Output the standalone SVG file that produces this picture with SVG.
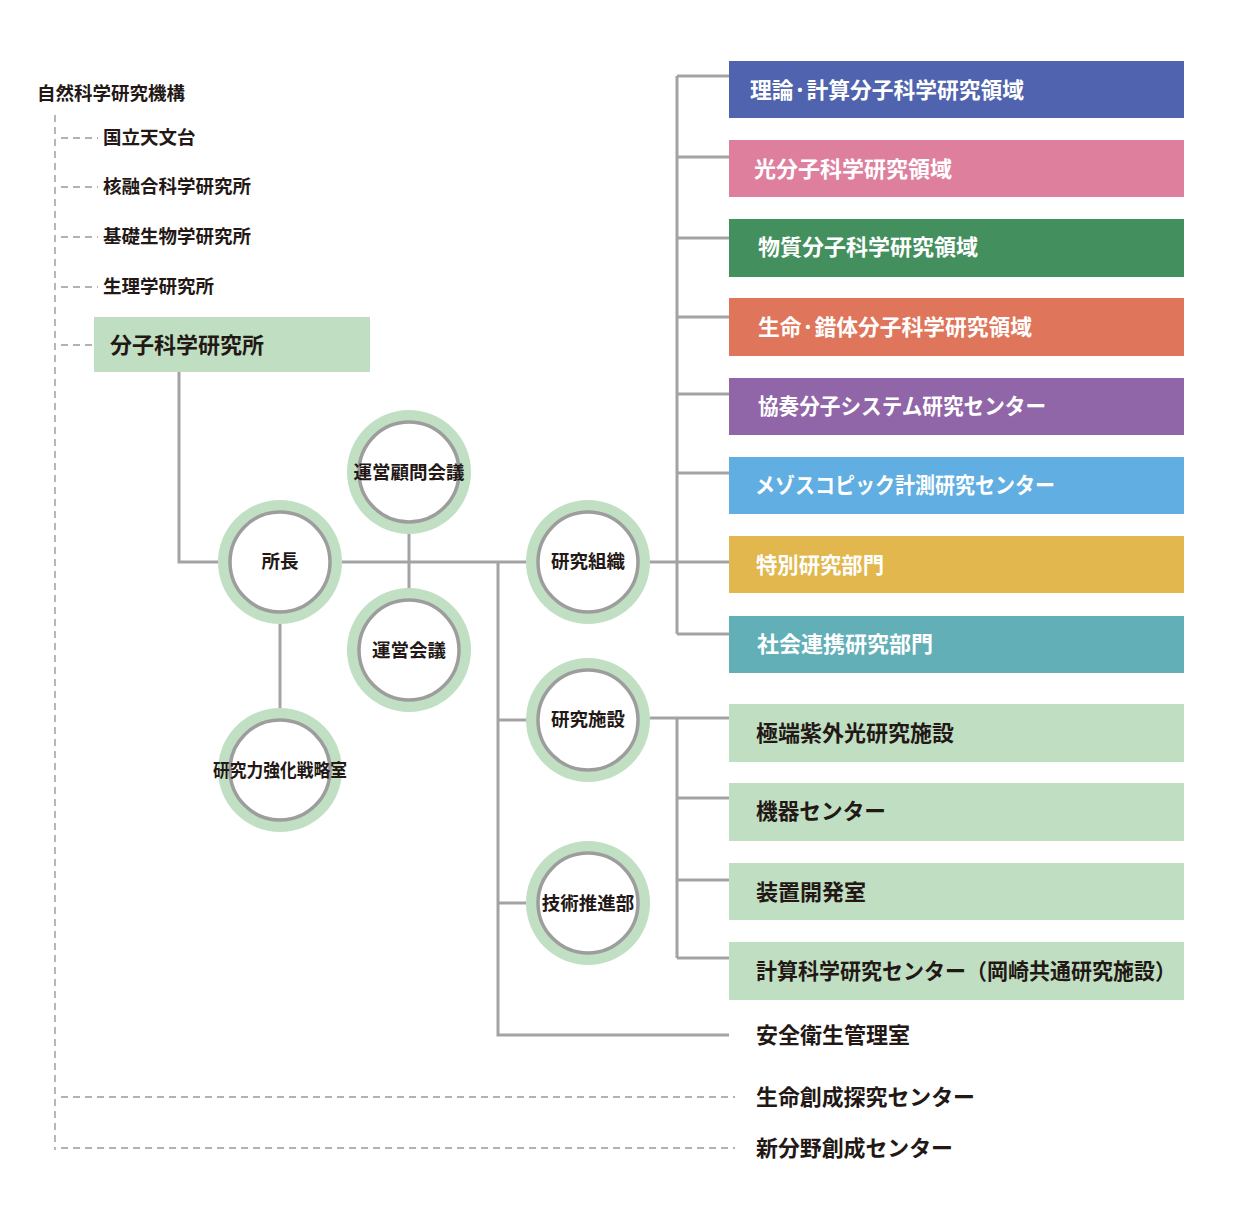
<svg xmlns="http://www.w3.org/2000/svg" width="1240" height="1228" viewBox="0 0 1240 1228">
<style>
.t{font-family:"Noto Sans CJK JP","Noto Sans",sans-serif;font-weight:700;dominant-baseline:central}
.dk{fill:#231815}
.wt{fill:#ffffff}
.s17{font-size:18.5px}
.s22{font-size:22px}
.c{text-anchor:middle}
.ln{stroke:#a3a3a3;stroke-width:3;fill:none}
.dl{stroke:#999;stroke-width:1.4;fill:none;stroke-dasharray:7 5}
.ring{fill:#c0dfc3}
.inner{fill:#fff;stroke:#9d9d9d;stroke-width:3.5}
.g{fill:#c0dfc2}
</style>
<defs>
<g id="circ"><circle r="62" class="ring"/><circle r="50" class="inner"/></g>
</defs>
<rect width="1240" height="1228" fill="#fff"/>

<g id="connectors">
<line class="dl" x1="55" y1="115" x2="55" y2="1150"/>
<line class="dl" x1="61" y1="138" x2="98" y2="138"/>
<line class="dl" x1="61" y1="187" x2="98" y2="187"/>
<line class="dl" x1="61" y1="237" x2="98" y2="237"/>
<line class="dl" x1="61" y1="287" x2="98" y2="287"/>
<line class="dl" x1="61" y1="345" x2="96" y2="345"/>
<line class="dl" x1="61" y1="1097" x2="735" y2="1097"/>
<line class="dl" x1="61" y1="1148" x2="735" y2="1148"/>
<polyline class="ln" points="179,372 179,562 218,562"/>
<line class="ln" x1="342" y1="562" x2="526" y2="562"/>
<line class="ln" x1="409" y1="534" x2="409" y2="588"/>
<line class="ln" x1="280" y1="624" x2="280" y2="708"/>
<polyline class="ln" points="498,562 498,1035 729,1035"/>
<line class="ln" x1="498" y1="720" x2="526" y2="720"/>
<line class="ln" x1="498" y1="903" x2="526" y2="903"/>
<line class="ln" x1="650" y1="562" x2="729" y2="562"/>
<line class="ln" x1="677" y1="76" x2="677" y2="634"/>
<line class="ln" x1="677" y1="76" x2="729" y2="76"/>
<line class="ln" x1="677" y1="157" x2="729" y2="157"/>
<line class="ln" x1="677" y1="238" x2="729" y2="238"/>
<line class="ln" x1="677" y1="317" x2="729" y2="317"/>
<line class="ln" x1="677" y1="394" x2="729" y2="394"/>
<line class="ln" x1="677" y1="473" x2="729" y2="473"/>
<line class="ln" x1="677" y1="634" x2="729" y2="634"/>
<line class="ln" x1="650" y1="718" x2="729" y2="718"/>
<line class="ln" x1="677" y1="718" x2="677" y2="958"/>
<line class="ln" x1="677" y1="798" x2="729" y2="798"/>
<line class="ln" x1="677" y1="880" x2="729" y2="880"/>
<line class="ln" x1="677" y1="958" x2="729" y2="958"/>
</g>

<g id="n-root"><text class="t dk s17" x="37" y="92">自然科学研究機構</text></g>
<g id="n-naoj"><text class="t dk s17" x="103" y="136">国立天文台</text></g>
<g id="n-nifs"><text class="t dk s17" x="103" y="185">核融合科学研究所</text></g>
<g id="n-nibb"><text class="t dk s17" x="103" y="235">基礎生物学研究所</text></g>
<g id="n-nips"><text class="t dk s17" x="103" y="285">生理学研究所</text></g>
<g id="n-ims"><rect class="g" x="94" y="317" width="276" height="55"/><text class="t dk" style="font-size:22px" x="110" y="343">分子科学研究所</text></g>

<g id="n-director"><use href="#circ" x="280" y="562"/><text class="t dk s17 c" x="280" y="560">所長</text></g>
<g id="n-advisory"><use href="#circ" x="409" y="472"/><text class="t dk s17 c" x="409" y="471">運営顧問会議</text></g>
<g id="n-council"><use href="#circ" x="409" y="650"/><text class="t dk s17 c" x="409" y="649">運営会議</text></g>
<g id="n-strategy"><use href="#circ" x="280" y="770"/><text class="t dk s17 c" x="280" y="769" textLength="134" lengthAdjust="spacingAndGlyphs">研究力強化戦略室</text></g>
<g id="n-research-org"><use href="#circ" x="588" y="562"/><text class="t dk s17 c" x="588" y="560">研究組織</text></g>
<g id="n-research-fac"><use href="#circ" x="588" y="720"/><text class="t dk s17 c" x="588" y="718">研究施設</text></g>
<g id="n-tech"><use href="#circ" x="588" y="903"/><text class="t dk s17 c" x="588" y="902">技術推進部</text></g>

<g id="n-theory"><rect x="729" y="61" width="455" height="57" fill="#5063ae"/><text class="t wt s22" x="750" y="88" textLength="274" lengthAdjust="spacingAndGlyphs">理論·計算分子科学研究領域</text></g>
<g id="n-photo"><rect x="729" y="140" width="455" height="57" fill="#de7f9e"/><text class="t wt s22" x="754" y="167">光分子科学研究領域</text></g>
<g id="n-material"><rect x="729" y="219" width="455" height="58" fill="#438f5e"/><text class="t wt s22" x="758" y="245">物質分子科学研究領域</text></g>
<g id="n-life"><rect x="729" y="298" width="455" height="58" fill="#df755a"/><text class="t wt s22" x="758" y="325" textLength="274" lengthAdjust="spacingAndGlyphs">生命·錯体分子科学研究領域</text></g>
<g id="n-ensemble"><rect x="729" y="378" width="455" height="57" fill="#9066a8"/><text class="t wt s22" x="758" y="404" textLength="288" lengthAdjust="spacingAndGlyphs">協奏分子システム研究センター</text></g>
<g id="n-meso"><rect x="729" y="457" width="455" height="57" fill="#61aee2"/><text class="t wt s22" x="755" y="483" textLength="300" lengthAdjust="spacingAndGlyphs">メゾスコピック計測研究センター</text></g>
<g id="n-special"><rect x="729" y="536" width="455" height="57" fill="#e2b74d"/><text class="t wt s22" x="756" y="563" textLength="128" lengthAdjust="spacingAndGlyphs">特別研究部門</text></g>
<g id="n-social"><rect x="729" y="616" width="455" height="57" fill="#62afb8"/><text class="t wt s22" x="757" y="642">社会連携研究部門</text></g>

<g id="n-uvsor"><rect class="g" x="729" y="704" width="455" height="58"/><text class="t dk s22" x="756" y="731">極端紫外光研究施設</text></g>
<g id="n-instrument"><rect class="g" x="729" y="783" width="455" height="58"/><text class="t dk s22" x="756" y="809" textLength="130" lengthAdjust="spacingAndGlyphs">機器センター</text></g>
<g id="n-equipment"><rect class="g" x="729" y="863" width="455" height="57"/><text class="t dk s22" x="756" y="890">装置開発室</text></g>
<g id="n-rccs"><rect class="g" x="729" y="942" width="455" height="58"/><text class="t dk s22" x="756" y="969" textLength="420" lengthAdjust="spacingAndGlyphs">計算科学研究センター（岡崎共通研究施設）</text></g>
<g id="n-safety"><text class="t dk s22" x="756" y="1033">安全衛生管理室</text></g>
<g id="n-excells"><text class="t dk s22" x="756" y="1095" textLength="219" lengthAdjust="spacingAndGlyphs">生命創成探究センター</text></g>
<g id="n-newfield"><text class="t dk s22" x="756" y="1146" textLength="197" lengthAdjust="spacingAndGlyphs">新分野創成センター</text></g>
</svg>
